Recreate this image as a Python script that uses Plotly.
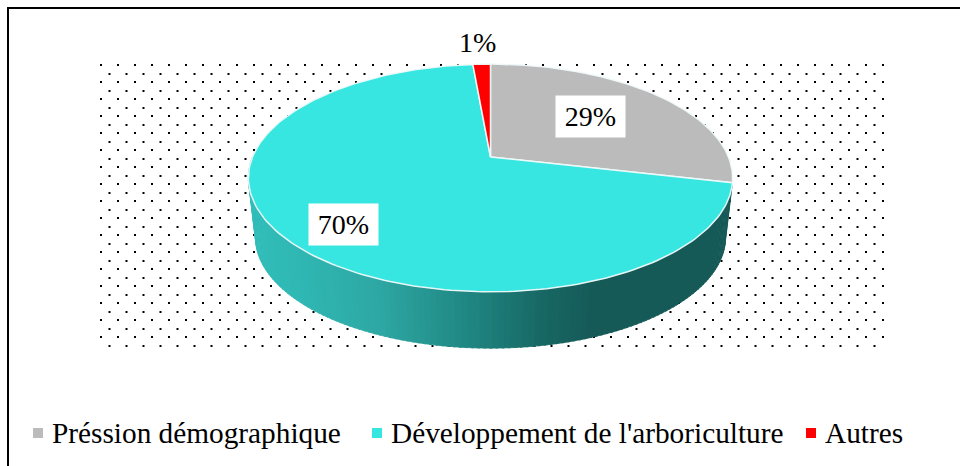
import numpy as np
import plotly.graph_objects as go

# ---- data ----
categories = ["Préssion démographique", "Développement de l'arboriculture", "Autres"]
values = [28.6, 70.0, 1.4]
labels = ["29%", "70%", "1%"]
colors = ["#BBBBBB", "#38E6E1", "#FF0000"]

FONT = "Liberation Serif"
W, H = 960, 466

# ---- perspective pie geometry ----
K = 0.184
def project(theta, cx, cy, a, b):
    u, v = np.sin(theta), np.cos(theta)
    w = 1 + K * v
    return cx + a * u / w, cy - b * v / w

TOP = dict(cx=490.5, cy=157, a=238, b=110)
BOT = dict(cx=490.5, cy=217, a=231, b=107)

fracs = np.array(values) / sum(values)
edges = 2 * np.pi * np.concatenate([[0], np.cumsum(fracs)])

fig = go.Figure()

# dotted plot-area background
ax, ay = np.meshgrid(np.arange(101, 887, 17), np.arange(65, 340, 17))
bx, by = np.meshgrid(np.arange(109.5, 880, 17), np.arange(74, 350, 17))
fig.add_trace(go.Scatter(
    x=np.concatenate([ax.ravel(), bx.ravel()]),
    y=np.concatenate([ay.ravel(), by.ravel()]),
    mode="markers", hoverinfo="skip", showlegend=False,
    marker=dict(symbol="square", size=2, color="#000000", line=dict(width=0))))

# side wall of the big slice, in strips
stops_x = [256, 300, 380, 460, 540, 590, 730]
stops_c = [(50, 190, 186), (48, 184, 180), (46, 168, 164), (33, 138, 134), (24, 104, 100), (22, 90, 88), (22, 90, 88)]
def wall_colour(x):
    r, g, bl = [np.interp(x, stops_x, [c[i] for c in stops_c]) for i in range(3)]
    return f"rgb({int(r)},{int(g)},{int(bl)})"

t0, t1 = edges[1], edges[2]
visible_end = min(t1, np.deg2rad(275))
ts = np.linspace(t0, visible_end, 140)
for i in range(len(ts) - 1):
    th = np.linspace(ts[i], ts[i + 1] + 0.008, 4)
    tx, ty = project(th, **TOP)
    bx2, by2 = project(th, **BOT)
    px = np.concatenate([tx, bx2[::-1]])
    py = np.concatenate([ty, by2[::-1]])
    col = wall_colour(float(np.mean(bx2)))
    fig.add_trace(go.Scatter(x=px, y=py, mode="lines", fill="toself", fillcolor=col,
                             line=dict(width=0.8, color=col), hoverinfo="skip", showlegend=False))

# top face slices
for i, cat in enumerate(categories):
    th = np.linspace(edges[i], edges[i + 1], 200)
    x, y = project(th, **TOP)
    px = np.concatenate([[TOP["cx"]], x, [TOP["cx"]]])
    py = np.concatenate([[TOP["cy"]], y, [TOP["cy"]]])
    fig.add_trace(go.Scatter(x=px, y=py, mode="lines", fill="toself", fillcolor=colors[i],
                             line=dict(width=1.5, color="rgba(240,250,250,0.95)"),
                             name=cat, hoverinfo="name", showlegend=False))

# legend drawn as swatches and text
legend_swatch_x = [38, 377, 811]
legend_text_x = [49.5, 388.5, 822.5]
legend_y = 433
fig.add_trace(go.Scatter(x=legend_swatch_x, y=[legend_y] * 3, mode="markers", hoverinfo="skip", showlegend=False,
                         marker=dict(symbol="square", size=10, color=colors, line=dict(width=0))))
annotations = [dict(x=tx_, y=legend_y, text=c, showarrow=False, xanchor="left", yanchor="middle",
                    font=dict(family=FONT, size=29.3, color="#000000"))
               for tx_, c in zip(legend_text_x, categories)]

# data labels
label_pos = [(590.5, 116.5, True), (343, 224, True), (477, 42, False)]
for (lx, ly, boxed), txt in zip(label_pos, labels):
    extra = dict(bgcolor="#FFFFFF", width=69, height=41, borderpad=0) if boxed else dict(borderpad=0)
    annotations.append(dict(x=lx, y=ly, text=txt, showarrow=False, xanchor="center", yanchor="middle",
                            font=dict(family=FONT, size=28, color="#000000"), **extra))

fig.update_layout(
    width=W, height=H, margin=dict(l=0, r=0, t=0, b=0),
    paper_bgcolor="#FFFFFF", plot_bgcolor="#FFFFFF", showlegend=False,
    xaxis=dict(range=[0, W], visible=False, fixedrange=True),
    yaxis=dict(range=[H, 0], visible=False, fixedrange=True),
    annotations=annotations,
    shapes=[
        dict(type="line", xref="x", yref="y", x0=7, y0=8, x1=960, y1=8, line=dict(color="#000000", width=2)),
        dict(type="line", xref="x", yref="y", x0=8, y0=7, x1=8, y1=466, line=dict(color="#000000", width=2)),
    ],
)
fig.write_html("out.html", config=dict(displayModeBar=False),
               post_script="document.body.style.margin='0';document.body.style.overflow='hidden';")
